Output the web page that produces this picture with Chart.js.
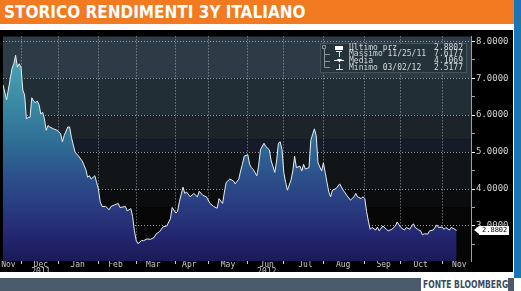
<!DOCTYPE html>
<html>
<head>
<meta charset="utf-8">
<script src="https://cdn.jsdelivr.net/npm/chart.js@4.4.0/dist/chart.umd.min.js"></script>
<style>
  body { margin:0; width:521px; height:291px; background:#fff; position:relative; overflow:hidden; }
  #titolo { position:absolute; left:0; top:0; width:514px; height:24px; background:#f27a21; color:#fff;
    font-family:"DejaVu Sans Condensed","DejaVu Sans",sans-serif; font-stretch:condensed; font-weight:bold;
    font-size:17px; line-height:24px; padding-left:4px; box-sizing:border-box; white-space:nowrap; }
  #blu { position:absolute; left:514px; top:0; width:7px; height:278px; background:#1b75b5; }
  #box { position:absolute; left:0; top:30px; width:513px; height:242px; background:#000; }
  #piede { position:absolute; left:0; top:278px; width:421px; height:13px; background:#4b5b6b; }
  #piede2 { position:absolute; left:508px; top:278px; width:6px; height:13px; background:#4b5b6b; }
  #fonte { position:absolute; left:423px; top:278px; height:13px; line-height:13px; color:#3c4b5a;
    font-family:"DejaVu Sans Condensed","DejaVu Sans",sans-serif; font-stretch:condensed; font-weight:bold;
    font-size:11px; white-space:nowrap; transform-origin:0 50%; transform:scaleX(0.77); }
</style>
</head>
<body>
<div id="titolo">STORICO RENDIMENTI 3Y ITALIANO</div>
<div id="blu"></div>
<div id="box"><canvas id="grafico" width="513" height="242"></canvas></div>
<div id="piede"></div>
<div id="piede2"></div>
<div id="fonte">FONTE BLOOMBERG</div>
<script>
// giorni di borsa dal 14/11/2011 e rendimento BTP 3 anni
var giorni = [0,2,5,6,7,8,9,10,11,12,13,14,15,16,17,18,19,20,21,22,23,24,25,26,28,30,32,33,34,36,37,38,
  40,42,44,46,47,48,49,51,52,53,54,55,57,59,60,62,64,65,68,69,71,72,73,74,75,77,78,80,82,84,85,87,89,91,
  93,94,96,97,98,100,101,102,104,106,108,109,111,113,115,117,119,120,122,123,124,126,128,129,131,132,133,
  134,136,137,138,139,141,142,143,145,146,148,149,151,152,153,154,155,156,157,158,160,161,162,163,165,166,
  167,168,170,171,173,174,175,177,178,179,180,181,182,183,185,187,189,191,193,195,196,197,199,200,201,202,
  203,204,205,207,208,209,211,213,214,216,218,219,220,221,223,224,226,227,228,229,231,232,233,234,236,237,
  239,241,242,244,245,246,248,249,250,252];
var rendimenti = [6.82,6.42,7.26,7.39,7.62,7.30,7.39,7.30,6.68,6.55,5.90,5.94,5.94,6.47,6.38,6.34,6.38,6.29,
  6.03,6.08,5.90,5.59,5.72,5.68,5.63,5.59,5.50,5.28,5.45,5.68,5.68,5.40,
  5.00,4.89,4.76,4.53,4.32,4.36,4.27,4.36,4.18,4.00,3.66,3.53,3.53,3.44,3.53,3.57,3.61,3.50,3.53,3.41,3.47,
  3.26,2.87,2.61,2.52,2.61,2.60,2.65,2.64,2.69,2.78,2.85,2.98,3.00,
  3.20,3.50,3.35,3.40,3.66,4.05,3.88,3.92,3.79,3.88,3.79,3.94,3.83,3.79,3.61,3.53,3.48,3.74,3.61,3.92,4.18,
  4.27,4.22,4.14,4.27,4.49,4.67,
  4.89,4.93,4.67,4.58,4.53,4.36,4.62,5.06,5.24,5.15,5.06,4.76,4.45,4.76,5.24,5.28,5.06,4.45,4.18,3.97,4.24,
  4.49,4.89,4.58,4.62,4.49,
  4.67,4.54,4.58,5.32,5.63,5.45,4.71,4.49,4.71,4.45,4.18,3.92,3.79,3.97,4.01,4.14,3.97,3.83,3.70,3.79,3.88,
  3.79,3.74,3.79,3.74,3.39,
  3.13,2.91,2.96,2.89,2.97,2.87,3.00,2.91,2.87,2.91,3.00,3.11,3.03,2.96,2.89,2.96,2.91,3.00,3.06,2.96,2.89,
  2.87,2.76,2.79,2.78,2.87,
  2.89,3.03,2.96,2.97,2.91,2.96,2.89,2.96,2.94,2.88];

// inizio mese (giorno di borsa) e posizione delle etichette
var inizioMese = [10,31,53,74,96,114,136,156,178,201,221,244];
var mesi = ['Nov',['Dec','2011'],'Jan','Feb','Mar','Apr','May',['Jun','2012'],'Jul','Aug','Sep','Oct','Nov'];
var posMesi = [3,21,41.5,62.5,83.5,103.5,125,146.5,168,189,211.5,232,253.5];
var tickY = [2.5,3,3.5,4,4.5,5,5.5,6,6.5,7,7.5,8];

var ultimo = 2.8802;
var legenda = [
  ['Ultimo prz', '2.8802'],
  ['Massimo 11/25/11', '7.6177'],
  ['Media', '4.1069'],
  ['Minimo 03/02/12', '2.5177']
];

var punti = [];
for (var i = 0; i < giorni.length; i++) {
  punti.push({x: giorni[i], y: rendimenti[i]});
}

var etichetta = {};
for (var i = 0; i < posMesi.length; i++) etichetta[posMesi[i]] = mesi[i];

var fasce = [
  [8.2, 7.0, '#2c3b45'],
  [7.0, 6.0, '#222e36'],
  [6.0, 5.35, '#1c2329'],
  [5.35, 5.0, '#151b28'],
  [5.0, 4.0, '#121517'],
  [4.0, 3.5, '#0b0c0d'],
  [3.5, 1.9, '#060606']
];

var sfondo = {
  id: 'sfondo',
  beforeDraw: function(chart) {
    var ctx = chart.ctx, ca = chart.chartArea, y = chart.scales.y;
    ctx.save();
    ctx.beginPath();
    ctx.rect(ca.left, ca.top, ca.right - ca.left, ca.bottom - ca.top);
    ctx.clip();
    fasce.forEach(function(f) {
      var y1 = y.getPixelForValue(f[0]), y2 = y.getPixelForValue(f[1]);
      ctx.fillStyle = f[2];
      ctx.fillRect(ca.left, y1, ca.right - ca.left, y2 - y1);
    });
    ctx.restore();
  }
};

var riquadro = {
  id: 'riquadro',
  afterDraw: function(chart) {
    var ctx = chart.ctx, ca = chart.chartArea, y = chart.scales.y;
    ctx.save();
    // legenda
    var bx = 320, by = 13, bw = 147, bh = 30;
    ctx.fillStyle = '#24323a';
    ctx.fillRect(bx, by, bw, bh);
    ctx.strokeStyle = '#45535a';
    ctx.lineWidth = 1;
    ctx.strokeRect(bx + 0.5, by + 0.5, bw - 1, bh - 1);
    ctx.font = '8px "DejaVu Sans Mono"';
    ctx.textBaseline = 'middle';
    legenda.forEach(function(r, i) {
      var ry = by + 4.5 + i * 6.7;
      ctx.fillStyle = '#d6dadc';
      ctx.textAlign = 'left';
      ctx.fillText(r[0], 349, ry);
      ctx.textAlign = 'right';
      ctx.fillText(r[1], 463, ry);
    });
    // simboli
    ctx.fillStyle = '#ffffff';
    ctx.fillRect(335, by + 3, 8, 4);
    ctx.strokeStyle = '#e0e4e6';
    ctx.beginPath();
    ctx.moveTo(336, by + 8.5); ctx.lineTo(342, by + 8.5);
    ctx.moveTo(339.5, by + 8.5); ctx.lineTo(339.5, by + 14);
    ctx.moveTo(334, by + 17.5); ctx.lineTo(344, by + 17.5);
    ctx.moveTo(339.5, by + 21); ctx.lineTo(339.5, by + 26.5);
    ctx.moveTo(336, by + 26.5); ctx.lineTo(343, by + 26.5);
    ctx.stroke();
    ctx.beginPath();
    ctx.moveTo(337, by + 16); ctx.lineTo(342, by + 16); ctx.lineTo(339.5, by + 19.5);
    ctx.fill();
    // albero
    ctx.strokeStyle = '#8a969c';
    ctx.beginPath();
    ctx.rect(322.5, by + 2.5, 3, 3);
    ctx.moveTo(324.5, by + 5.5); ctx.lineTo(324.5, by + 24.5);
    ctx.moveTo(324.5, by + 11.5); ctx.lineTo(330, by + 11.5);
    ctx.moveTo(324.5, by + 18.5); ctx.lineTo(330, by + 18.5);
    ctx.moveTo(324.5, by + 24.5); ctx.lineTo(330, by + 24.5);
    ctx.stroke();
    // etichetta ultimo prezzo
    var py = Math.round(y.getPixelForValue(ultimo));
    var tx = ca.right + 8;
    ctx.fillStyle = '#ffffff';
    ctx.beginPath();
    ctx.moveTo(ca.right + 3, py);
    ctx.lineTo(tx, py - 4);
    ctx.lineTo(tx, py + 4);
    ctx.fill();
    ctx.fillRect(tx, py - 4, 30, 9);
    ctx.fillStyle = '#000000';
    ctx.font = '7px "DejaVu Sans Mono"';
    ctx.textAlign = 'left';
    ctx.textBaseline = 'middle';
    ctx.fillText(ultimo.toFixed(4), tx + 3, py + 0.5);
    ctx.restore();
  }
};

var griglia = 'rgba(190,200,205,0.75)';

new Chart(document.getElementById('grafico'), {
  type: 'line',
  data: {
    datasets: [{
      label: 'Rendimento 3Y',
      data: punti,
      borderColor: '#e8eef2',
      borderWidth: 1,
      pointRadius: 0,
      tension: 0,
      fill: 'start',
      backgroundColor: function(c) {
        var ca = c.chart.chartArea;
        if (!ca) return '#2d6c95';
        var g = c.chart.ctx.createLinearGradient(0, ca.top, 0, ca.bottom);
        g.addColorStop(0.00, '#52aab9');
        g.addColorStop(0.07, '#4ea6b6');
        g.addColorStop(0.30, '#3a89a3');
        g.addColorStop(0.48, '#2e6c94');
        g.addColorStop(0.63, '#2b4f8a');
        g.addColorStop(0.76, '#293b7f');
        g.addColorStop(0.89, '#232670');
        g.addColorStop(1.00, '#1b1a58');
        return g;
      }
    }]
  },
  options: {
    responsive: false,
    animation: false,
    devicePixelRatio: 1,
    layout: { padding: { left: 3, right: 0, top: 0, bottom: 0 } },
    plugins: { legend: { display: false }, tooltip: { enabled: false } },
    scales: {
      x: {
        type: 'linear',
        min: 0,
        max: 260,
        z: 1,
        afterBuildTicks: function(s) {
          var t = inizioMese.concat(posMesi).sort(function(a, b) { return a - b; });
          s.ticks = t.map(function(v) { return {value: v}; });
        },
        afterFit: function(s) { s.height = 11; },
        grid: {
          color: function(c) { return inizioMese.indexOf(c.tick && c.tick.value) >= 0 ? griglia : 'rgba(0,0,0,0)'; },
          tickColor: function(c) { return inizioMese.indexOf(c.tick && c.tick.value) >= 0 ? '#d0d0d0' : 'rgba(0,0,0,0)'; },
          tickLength: 3,
          lineWidth: 1
        },
        border: { display: false, dash: [1, 2] },
        ticks: {
          autoSkip: false,
          maxRotation: 0,
          padding: -2,
          color: '#c8c8c8',
          font: { family: 'DejaVu Sans Mono', size: 8, lineHeight: 0.85 },
          callback: function(v) { return etichetta[v] !== undefined ? etichetta[v] : ''; }
        }
      },
      y: {
        position: 'right',
        min: 2.0526,
        max: 8.1316,
        z: 1,
        afterBuildTicks: function(s) {
          s.ticks = tickY.map(function(v) { return {value: v}; });
        },
        afterFit: function(s) { s.width = 42; },
        grid: {
          color: function(c) { return c.tick && c.tick.value % 1 === 0 ? griglia : 'rgba(0,0,0,0)'; },
          tickColor: function(c) { return c.tick && c.tick.value % 1 === 0 ? '#ffffff' : '#a8a8a8'; },
          tickLength: 4,
          lineWidth: 1
        },
        border: { display: true, color: '#9aa0a4', width: 1, dash: [1, 2] },
        ticks: {
          padding: 1,
          color: '#d4d4d4',
          font: { family: 'DejaVu Sans Mono', size: 9 },
          callback: function(v) { return v % 1 === 0 ? v.toFixed(4) : ''; }
        }
      }
    }
  },
  plugins: [sfondo, riquadro]
});
</script>
</body>
</html>
